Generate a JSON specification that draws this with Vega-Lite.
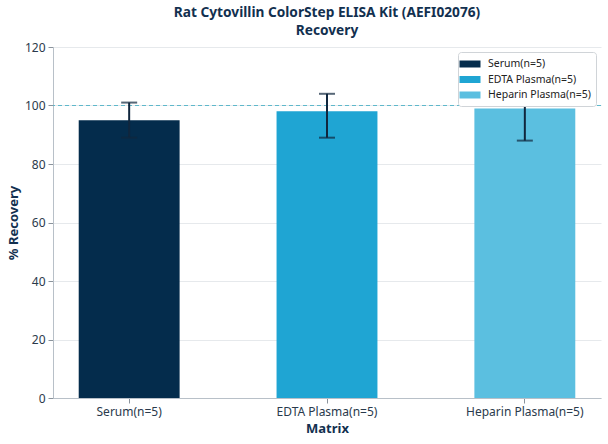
{
  "$schema": "https://vega.github.io/schema/vega-lite/v6.json",
  "width": 548,
  "height": 351,
  "autosize": {"type": "none"},
  "padding": {"left": 53, "top": 47, "right": 7, "bottom": 46},
  "title": {
    "text": ["Rat Cytovillin ColorStep ELISA Kit (AEFI02076)", "Recovery"],
    "anchor": "middle",
    "font": "Noto Sans",
    "fontSize": 13.7,
    "fontWeight": "bold",
    "color": "#12304f",
    "lineHeight": 18,
    "offset": 3
  },
  "data": {
    "values": [
      {"matrix": "Serum(n=5)", "recovery": 95, "lo": 89, "hi": 101},
      {"matrix": "EDTA Plasma(n=5)", "recovery": 98, "lo": 89, "hi": 104},
      {"matrix": "Heparin Plasma(n=5)", "recovery": 99, "lo": 88, "hi": 110}
    ]
  },
  "encoding": {
    "x": {
      "field": "matrix",
      "type": "nominal",
      "sort": ["Serum(n=5)", "EDTA Plasma(n=5)", "Heparin Plasma(n=5)"],
      "scale": {"paddingInner": 0.49, "paddingOuter": 0.13},
      "axis": {
        "title": "Matrix",
        "labelAngle": 0,
        "labelFontSize": 12,
        "titleFontSize": 13,
        "titlePadding": 5,
        "labelPadding": 3,
        "tickSize": 5
      }
    }
  },
  "layer": [
    {
      "mark": {"type": "bar"},
      "encoding": {
        "y": {
          "field": "recovery",
          "type": "quantitative",
          "scale": {"domain": [0, 120]},
          "axis": {
            "title": "% Recovery",
            "values": [0, 20, 40, 60, 80, 100, 120],
            "labelFontSize": 12,
            "titleFontSize": 13,
            "titlePadding": 4,
            "labelPadding": 3,
            "tickSize": 5,
            "grid": true
          }
        },
        "color": {
          "field": "matrix",
          "type": "nominal",
          "sort": ["Serum(n=5)", "EDTA Plasma(n=5)", "Heparin Plasma(n=5)"],
          "scale": {"range": ["#042c4c", "#1fa5d3", "#5bbfe0"]},
          "legend": {
            "title": null,
            "orient": "top-right",
            "offset": 5,
            "symbolType": "M-1.5,-0.5L1.5,-0.5L1.5,0.5L-1.5,0.5Z",
            "symbolSize": 196,
            "symbolStrokeWidth": 0,
            "symbolOpacity": 1,
            "labelFontSize": 10.5,
            "labelOffset": 11,
            "rowPadding": 2.5,
            "padding": 5,
            "fillColor": "white",
            "strokeColor": "#d0d4d8",
            "cornerRadius": 3
          }
        }
      }
    },
    {
      "mark": {"type": "rule", "color": "#5fb8cb", "strokeDash": [4, 3], "strokeWidth": 1.1},
      "encoding": {"y": {"datum": 100}, "x": null}
    },
    {
      "mark": {"type": "rule", "color": "#10263d", "strokeWidth": 2},
      "encoding": {"y": {"field": "lo", "type": "quantitative"}, "y2": {"field": "hi"}}
    },
    {
      "mark": {"type": "tick", "color": "#10263d", "thickness": 2, "size": 16, "orient": "horizontal"},
      "encoding": {"y": {"field": "hi", "type": "quantitative"}}
    },
    {
      "mark": {"type": "tick", "color": "#10263d", "thickness": 2, "size": 16, "orient": "horizontal"},
      "encoding": {"y": {"field": "lo", "type": "quantitative"}}
    }
  ],
  "config": {
    "font": "Noto Sans",
    "view": {"stroke": null},
    "axis": {
      "labelColor": "#2a3a4c",
      "titleColor": "#12304f",
      "titleFontWeight": "bold",
      "domainColor": "#b8c0c8",
      "tickColor": "#8a939c",
      "gridColor": "#e6e9ec",
      "labelFont": "Noto Sans",
      "titleFont": "Noto Sans"
    },
    "axisX": {"grid": false},
    "legend": {"labelColor": "#222222", "labelFont": "Noto Sans"}
  }
}
